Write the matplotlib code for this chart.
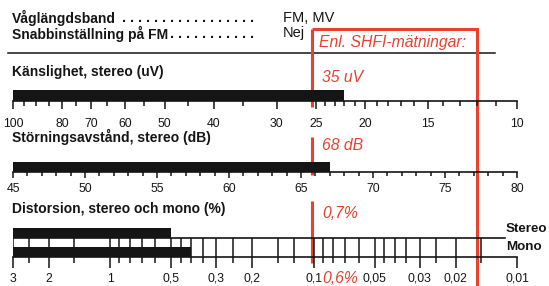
import matplotlib
matplotlib.use('Agg')
import matplotlib.pyplot as plt
from matplotlib.ticker import NullFormatter, MultipleLocator

plt.rcParams['font.family'] = ['Liberation Sans', 'DejaVu Sans']

W, H = 549, 286
INK = '#151515'
RED = '#e8412e'
PT = 0.72  # points per pixel at dpi 100

# --- texts and values ---
band_label = 'Våglängdsband'
band_value = 'FM, MV'
preset_label = 'Snabbinställning på FM'
preset_value = 'Nej'
shfi_header = 'Enl. SHFI-mätningar:'

sens_title = 'Känslighet, stereo (uV)'
sens_value = 22
sens_shfi = '35 uV'
sens_major = [100, 80, 70, 60, 50, 40, 30, 25, 20, 15, 10]
sens_minor = [95, 90, 85, 75, 65, 55, 45, 35, 24, 23, 22, 21, 19, 18, 17, 16, 14, 13, 12, 11]

snr_title = 'Störningsavstånd, stereo (dB)'
snr_value = 67
snr_shfi = '68 dB'
snr_major = [45, 50, 55, 60, 65, 70, 75, 80]

dist_title = 'Distorsion, stereo och mono (%)'
dist_stereo = 0.5
dist_mono = 0.4
dist_shfi_stereo = '0,7%'
dist_shfi_mono = '0,6%'
dist_major = [3, 2, 1, 0.5, 0.3, 0.2, 0.1, 0.05, 0.03, 0.02, 0.01]
dist_labels = ['3', '2', '1', '0,5', '0,3', '0,2', '0,1', '0,05', '0,03', '0,02', '0,01']
dist_minor = [2.5, 1.5, 0.9, 0.8, 0.7, 0.6, 0.45, 0.4, 0.35, 0.25, 0.15, 0.125,
              0.09, 0.08, 0.07, 0.06, 0.045, 0.04, 0.035, 0.025, 0.015]


fig = plt.figure(figsize=(W / 100, H / 100), dpi=100)
bg = fig.add_axes([0, 0, 1, 1])
bg.set_xlim(0, W)
bg.set_ylim(H, 0)
bg.axis('off')


def scale_axes(top, bottom, base, major_len, minor_len, pad):
    # y data unit = one pixel above the scale line
    ax = fig.add_axes([13 / W, 1 - bottom / H, 504 / W, (bottom - top) / H])
    ax.set_ylim(-(bottom - base), base - top)
    ax.patch.set_visible(False)
    for s in ('top', 'left', 'right'):
        ax.spines[s].set_visible(False)
    ax.spines['bottom'].set_position(('data', 0))
    ax.spines['bottom'].set_linewidth(1.2)
    ax.spines['bottom'].set_color(INK)
    ax.set_yticks([])
    ax.tick_params(axis='x', which='major', direction='out', length=major_len * PT,
                   width=1.1, color=INK, labelsize=8.8, labelcolor=INK, pad=pad * PT)
    ax.tick_params(axis='x', which='minor', direction='out', length=minor_len * PT,
                   width=1.1, color=INK)
    return ax


# header block
bg.text(12, 22.5, band_label, fontsize=10, fontweight='bold', color=INK)
bg.text(258, 22.5, '. ' * 17, fontsize=10.4, fontweight='bold', color=INK, ha='right')
bg.text(12, 38.5, preset_label, fontsize=10, fontweight='bold', color=INK)
bg.text(258, 38.5, '. ' * 11, fontsize=10.4, fontweight='bold', color=INK, ha='right')
bg.text(283, 21.5, band_value, fontsize=10.5, color=INK)
bg.text(283, 36.5, preset_value, fontsize=10.5, color=INK)
bg.plot([8, 495], [52.7, 52.7], color=INK, lw=1.1)

# SHFI box
bg.plot([312, 477], [29.3, 29.3], color=RED, lw=2.2, solid_capstyle='butt')
bg.plot([477, 477], [29.3, 286], color=RED, lw=2.2)
for y0, y1 in [(29.3, 107), (137, 175), (201, 263)]:
    bg.plot([312, 312], [y0, y1], color=RED, lw=2.2, solid_capstyle='butt')
bg.text(319, 46.5, shfi_header, fontsize=11.3, style='italic', color=RED)
bg.text(322, 81.5, sens_shfi, fontsize=11.3, style='italic', color=RED)
bg.text(322, 150, snr_shfi, fontsize=11.3, style='italic', color=RED)
bg.text(322, 218.3, dist_shfi_stereo, fontsize=11.3, style='italic', color=RED)
bg.text(322, 283, dist_shfi_mono, fontsize=11.3, style='italic', color=RED)

# section titles
bg.text(12, 76, sens_title, fontsize=10, fontweight='bold', color=INK)
bg.text(12, 142, snr_title, fontsize=10, fontweight='bold', color=INK)
bg.text(12, 213, dist_title, fontsize=10, fontweight='bold', color=INK)

# sensitivity (log scale, reversed)
ax1 = scale_axes(86, 112, 100.7, 7.5, 5, 9.5)
ax1.set_xscale('log')
ax1.set_xlim(sens_major[0], sens_major[-1])
ax1.barh(0, sens_major[0] - sens_value, left=sens_value, height=10.5,
         align='edge', color=INK, lw=0, zorder=3)
ax1.set_xticks(sens_major)
ax1.set_xticklabels([str(v) for v in sens_major])
ax1.set_xticks(sens_minor, minor=True)
ax1.xaxis.set_minor_formatter(NullFormatter())

# signal to noise (linear)
ax2 = scale_axes(156, 182, 171.7, 6, 3.5, 5)
ax2.set_xlim(snr_major[0], snr_major[-1])
ax2.barh(0, snr_value - snr_major[0], left=snr_major[0], height=10,
         align='edge', color=INK, lw=0, zorder=3)
ax2.set_xticks(snr_major)
ax2.set_xticklabels([str(v) for v in snr_major])
ax2.xaxis.set_minor_locator(MultipleLocator(1))

# distortion (log scale, reversed), mono on the scale line, stereo row above
STEREO = 19
ax3 = scale_axes(224, 270, 257, 11, 6, 4.5)
ax3.set_xscale('log')
ax3.set_xlim(dist_major[0], dist_major[-1])
ax3.vlines(dist_major[:-1] + dist_minor, 0, STEREO, color=INK, lw=1.1, zorder=2)
ax3.axhline(STEREO, xmin=0, xmax=(505 - 13) / 504, color=INK, lw=1.2, zorder=2)
ax3.barh(STEREO, dist_major[0] - dist_stereo, left=dist_stereo, height=10,
         align='edge', color=INK, lw=0, zorder=3)
ax3.barh(0, dist_major[0] - dist_mono, left=dist_mono, height=10,
         align='edge', color=INK, lw=0, zorder=3)
ax3.set_xticks(dist_major)
ax3.set_xticklabels(dist_labels)
ax3.set_xticks(dist_minor, minor=True)
ax3.xaxis.set_minor_formatter(NullFormatter())
bg.text(506, 228.5, 'Stereo', fontsize=9.6, fontweight='bold', color=INK, va='center')
bg.text(506, 247.5, 'Mono', fontsize=9.6, fontweight='bold', color=INK, va='center')

fig.savefig('out.png', dpi=100)
